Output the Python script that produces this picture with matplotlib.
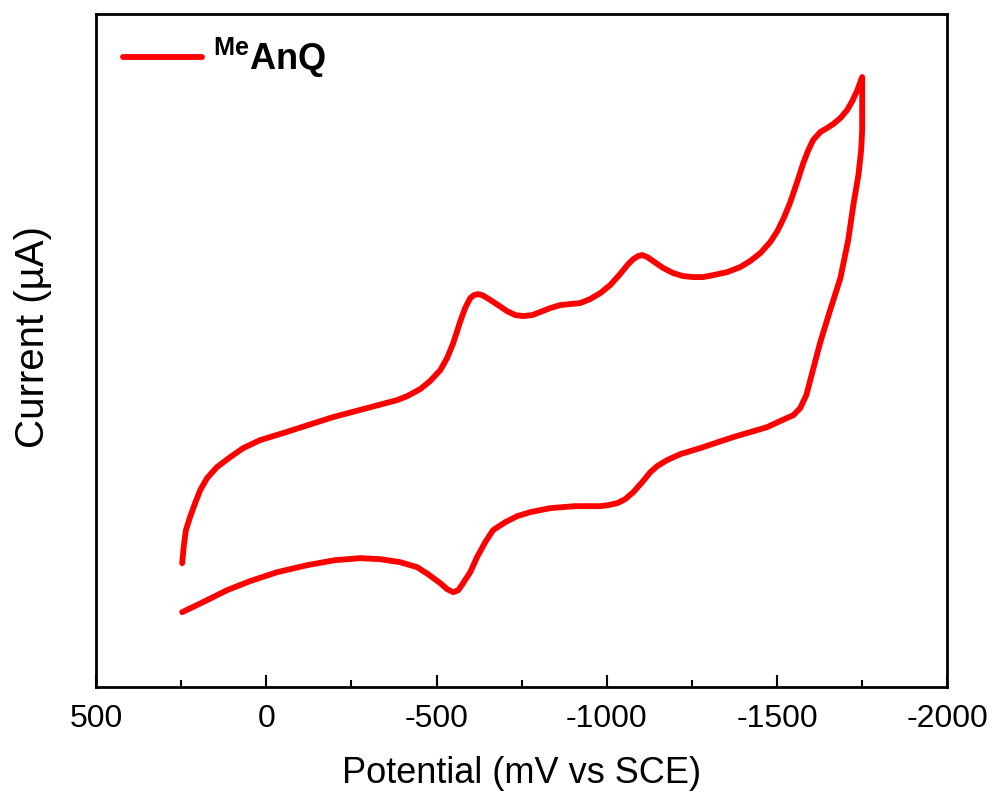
import matplotlib
matplotlib.use("Agg")
import matplotlib.pyplot as plt
from matplotlib.ticker import MultipleLocator

plt.rcParams['font.family'] = ['Liberation Sans', 'DejaVu Sans']
plt.rcParams['axes.unicode_minus'] = False
plt.rcParams['mathtext.fontset'] = 'custom'
plt.rcParams['mathtext.bf'] = 'Liberation Sans:bold'
plt.rcParams['mathtext.rm'] = 'Liberation Sans'

# Forward (cathodic) scan: potential (mV vs SCE) and current (arbitrary µA)
fwd_potential = [247, 242, 236, 224, 209, 194, 174, 145, 106, 68, 18, -49, -196, -384,
                 -414, -452, -481, -511, -531, -549, -569, -584, -599, -610, -622, -634,
                 -649, -672, -707, -731, -754, -781, -804, -834, -863, -892, -922, -951,
                 -981, -1010, -1039, -1063, -1078, -1092, -1104, -1119, -1136, -1166,
                 -1195, -1224, -1254, -1283, -1313, -1354, -1392, -1421, -1451, -1480,
                 -1501, -1521, -1539, -1559, -1577, -1592, -1606, -1627, -1647, -1665,
                 -1686, -1706, -1721, -1736, -1750]
fwd_current = [12.4, 14.2, 15.7, 17.0, 18.4, 19.7, 20.9, 22.0, 23.0, 23.9, 24.7, 25.4, 27.0,
               28.7, 29.1, 29.8, 30.6, 31.7, 32.9, 34.4, 36.5, 37.9, 38.9, 39.2, 39.3,
               39.2, 38.9, 38.4, 37.6, 37.2, 37.1, 37.2, 37.5, 37.9, 38.2, 38.3, 38.4,
               38.8, 39.4, 40.2, 41.3, 42.3, 42.8, 43.1, 43.2, 43.0, 42.6, 41.9, 41.4,
               41.1, 41.0, 41.0, 41.2, 41.5, 42.0, 42.6, 43.4, 44.5, 45.6, 47.0, 48.5,
               50.5, 52.4, 53.7, 54.7, 55.5, 55.9, 56.3, 56.9, 57.7, 58.6, 59.7, 61.0]

# Reverse (anodic) scan
rev_potential = [-1750, -1750, -1747, -1739, -1724, -1709, -1686, -1656, -1627, -1603,
                 -1586, -1568, -1548, -1509, -1471, -1421, -1371, -1274, -1216, -1177,
                 -1148, -1128, -1104, -1078, -1054, -1031, -1004, -981, -907, -834,
                 -775, -737, -702, -666, -643, -619, -599, -578, -564, -549, -531,
                 -511, -475, -443, -393, -334, -276, -202, -120, -32, 48, 115, 180, 247]
rev_current = [61.0, 55.7, 53.7, 51.2, 48.2, 44.7, 40.9, 37.7, 34.5, 31.4,
               29.2, 27.9, 27.2, 26.6, 26.0, 25.5, 25.0, 23.9, 23.3, 22.7,
               22.1, 21.5, 20.5, 19.5, 18.8, 18.4, 18.2, 18.1, 18.1, 17.9,
               17.5, 17.1, 16.5, 15.7, 14.5, 13.0, 11.5, 10.4, 9.7, 9.5, 9.8,
               10.4, 11.3, 12.0, 12.5, 12.8, 12.9, 12.7, 12.2, 11.5, 10.6, 9.7, 8.6, 7.5]

potential = fwd_potential + rev_potential[1:]
current = fwd_current + rev_current[1:]

fig = plt.figure(figsize=(9.98, 8.0), dpi=100)
ax = fig.add_axes([0.0962, 0.141, 0.853, 0.8415])

ax.plot(potential, current, color='#ff0000', lw=4.2, solid_joinstyle='round',
        solid_capstyle='round', label=r'$^{\mathbf{Me}}$AnQ')

ax.set_xlim(500, -2000)
ax.set_ylim(0, 67.3)
ax.xaxis.set_major_locator(MultipleLocator(500))
ax.xaxis.set_minor_locator(MultipleLocator(250))
ax.tick_params(axis='x', which='major', direction='in', length=9, width=1.5,
               labelsize=23, pad=12)
ax.tick_params(axis='x', which='minor', direction='in', length=5, width=1.5)
ax.set_yticks([])
for s in ax.spines.values():
    s.set_linewidth(2)

ax.set_xlabel('Potential (mV vs SCE)', fontsize=26, labelpad=16)
ax.set_ylabel('Current (µA)', fontsize=29)
ax.yaxis.set_label_coords(-0.052, 0.52)

leg = ax.legend(loc='upper left', bbox_to_anchor=(0.0146, 0.9896), frameon=False,
                handlelength=2.2, prop={'size': 26, 'weight': 'bold'},
                borderaxespad=0.0, handletextpad=0.3)

fig.savefig('out.png', dpi=100)
